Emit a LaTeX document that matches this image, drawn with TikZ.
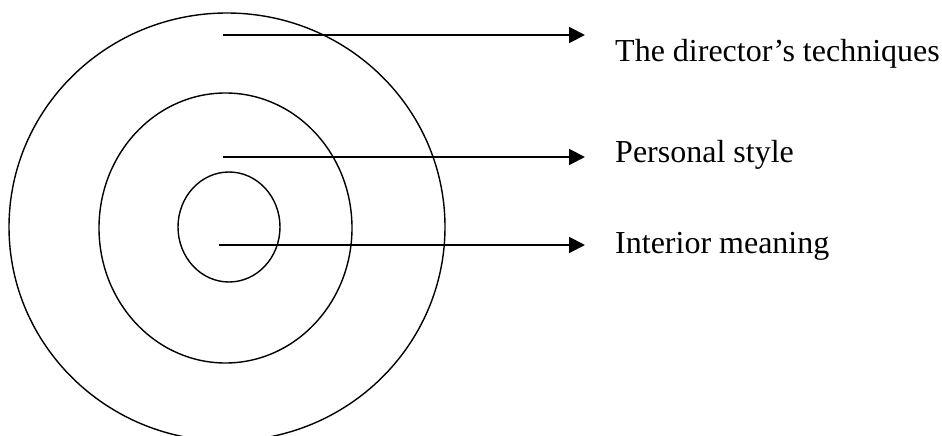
\documentclass[tikz,border=0pt]{standalone}
\usepackage{fontspec}
\setmainfont{Liberation Serif}
\usetikzlibrary{arrows.meta, shapes.geometric, positioning}

\tikzset{
    ring/.style={draw, ellipse, inner sep=0pt, line width=1.4pt},
    pointer/.style={line width=2pt, -{Triangle[length=16pt, width=16pt]}},
    layerLabel/.style={anchor=base west, inner sep=0pt, font=\fontsize{32}{38}\selectfont}
}

\begin{document}
\begin{tikzpicture}[x=1pt, y=-1pt]
    \useasboundingbox (0,0) rectangle (942,436);
    % concentric layers
    \node (outer) [ring, minimum width=436pt, minimum height=428pt] at (227,227) {};
    \node (middle) [ring, minimum width=253pt, minimum height=270pt] at (225.5,228) {};
    \node (inner) [ring, minimum width=102pt, minimum height=110pt] at (229,227) {};
    % labels and their pointers
    \foreach \name/\xs/\ya/\yt/\txt in {tech/223/35/62/The director’s techniques,
                                        style/223/157/162/Personal style,
                                        mean/219/245/253/Interior meaning}{
        \node (\name Label) [layerLabel] at (615,\yt) {\txt};
        \coordinate (\name Start) at (\xs,\ya);
        \coordinate (\name End) at (585,\ya);
        \draw [pointer] (\name Start) -- (\name End);
    }
\end{tikzpicture}
\end{document}
